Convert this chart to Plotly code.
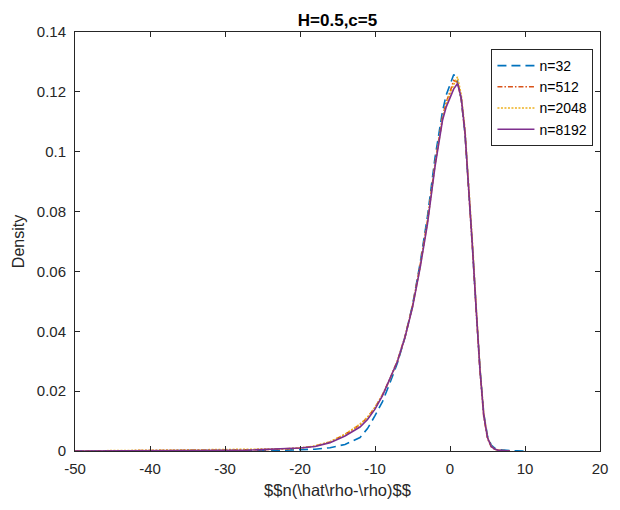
import plotly.graph_objects as go

x_vals = [-50, -45, -40, -35, -30, -27, -24, -22, -20, -18, -16, -14, -12, -11, -10,
          -9, -8, -7, -6, -5, -4, -3, -2, -1, -0.5, 0, 0.5, 1, 1.5, 2, 2.5, 3, 3.5,
          4, 4.5, 5, 5.5, 6, 6.5, 7, 8, 9, 10]

n32 = [0.0, 0.0, 0.0, 0.0, 0.0001, 0.0001, 0.0002, 0.0003, 0.0004, 0.0006, 0.0011,
       0.0022, 0.0045, 0.0075, 0.0118, 0.0165, 0.0228, 0.0295, 0.0380, 0.0487, 0.0625,
       0.0785, 0.0980, 0.1135, 0.1190, 0.1225, 0.1258, 0.1235, 0.1175, 0.1060, 0.0880,
       0.0680, 0.0470, 0.0275, 0.0125, 0.0050, 0.0020, 0.0009, 0.0005, 0.0003, 0.0001,
       0.0001, 0.0]

n512 = [0.0, 0.0, 0.0001, 0.0002, 0.0003, 0.0003, 0.0005, 0.0007, 0.0010, 0.0016, 0.0030,
        0.0055, 0.0088, 0.0112, 0.0145, 0.0188, 0.0242, 0.0302, 0.0382, 0.0485, 0.0618,
        0.0770, 0.0960, 0.1115, 0.1165, 0.1200, 0.1238, 0.1232, 0.1175, 0.1060, 0.0880,
        0.0675, 0.0465, 0.0265, 0.0115, 0.0042, 0.0014, 0.0005, 0.0002, 0.0001, 0.0,
        None, None]

n2048 = [0.0, 0.0001, 0.0001, 0.0002, 0.0003, 0.0004, 0.0005, 0.0007, 0.0010, 0.0017, 0.0031,
         0.0056, 0.0090, 0.0113, 0.0146, 0.0187, 0.0240, 0.0300, 0.0380, 0.0482, 0.0612,
         0.0765, 0.0955, 0.1110, 0.1160, 0.1195, 0.1225, 0.1250, 0.1190, 0.1075, 0.0900,
         0.0695, 0.0480, 0.0278, 0.0125, 0.0046, 0.0016, 0.0006, 0.0002, 0.0001, 0.0,
         None, None]

n8192 = [0.0, 0.0, 0.0001, 0.0001, 0.0002, 0.0003, 0.0005, 0.0007, 0.0010, 0.0015, 0.0028,
         0.0050, 0.0080, 0.0105, 0.0140, 0.0185, 0.0240, 0.0300, 0.0380, 0.0480, 0.0610,
         0.0760, 0.0950, 0.1105, 0.1150, 0.1180, 0.1210, 0.1228, 0.1180, 0.1065, 0.0885,
         0.0680, 0.0470, 0.0270, 0.0120, 0.0045, 0.0015, 0.0006, 0.0002, 0.0001, 0.0,
         None, None]

series_names = ["n=32", "n=512", "n=2048", "n=8192"]
x_ticks = [-50, -40, -30, -20, -10, 0, 10, 20]
y_ticks = [0, 0.02, 0.04, 0.06, 0.08, 0.1, 0.12, 0.14]
y_tick_labels = ["0", "0.02", "0.04", "0.06", "0.08", "0.1", "0.12", "0.14"]

styles = [
    dict(color="#0072BD", dash="9px,5px"),
    dict(color="#D95319", dash="5px,2px,1.5px,2px"),
    dict(color="#EDB120", dash="2px,1.5px"),
    dict(color="#7E2F8E", dash="solid"),
]

fig = go.Figure()
for name, ys, st in zip(series_names, [n32, n512, n2048, n8192], styles):
    fig.add_trace(go.Scatter(x=x_vals, y=ys, mode="lines", name=name,
                             line=dict(color=st["color"], dash=st["dash"], width=1.6),
                             connectgaps=False))

axis_col = "#262626"
font_fam = "Liberation Sans, Arial, Helvetica, sans-serif"

fig.update_layout(
    width=620, height=510,
    margin=dict(l=75, r=13, t=32, b=59),
    paper_bgcolor="white", plot_bgcolor="white",
    font=dict(family=font_fam, size=15, color=axis_col),
    title=dict(text="<b>H=0.5,c=5</b>", x=0.5, xref="paper", xanchor="center",
               y=1 - 20/510, yref="container", yanchor="middle",
               font=dict(size=17, color="black")),
    showlegend=True,
    legend=dict(x=(497-75)/532, y=(451-49)/419, xanchor="left", yanchor="top",
                bgcolor="white", bordercolor=axis_col, borderwidth=1,
                font=dict(size=14, color="black"), tracegroupgap=0,
                itemwidth=37),
)

fig.update_xaxes(range=[-50, 20], tickvals=x_ticks, ticktext=[str(v) for v in x_ticks],
                 ticks="inside", ticklen=5, tickcolor=axis_col, showline=True,
                 linecolor=axis_col, linewidth=1, mirror="ticks", showgrid=False,
                 zeroline=False, ticklabelstandoff=4,
                 title=dict(text="$$n(\\hat\\rho-\\rho)$$", standoff=8,
                            font=dict(size=16.5, color=axis_col)))
fig.update_yaxes(range=[0, 0.14], tickvals=y_ticks, ticktext=y_tick_labels,
                 ticks="inside", ticklen=5, tickcolor=axis_col, showline=True,
                 linecolor=axis_col, linewidth=1, mirror="ticks", showgrid=False,
                 zeroline=False, ticklabelstandoff=5,
                 title=dict(text="Density", standoff=8,
                            font=dict(size=16, color=axis_col)))

fig.write_html("out.html", config={"displayModeBar": False},
               post_script="document.body.style.margin='0';document.body.style.overflow='hidden';")
